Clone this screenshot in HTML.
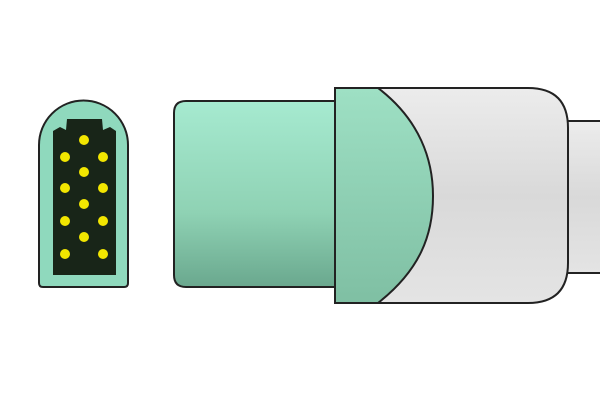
<!DOCTYPE html>
<html><head><meta charset="utf-8"><style>html,body{margin:0;background:#fff}svg{display:block}</style></head>
<body>
<svg width="600" height="400" viewBox="0 0 600 400">
<defs>
<linearGradient id="gb" x1="0" y1="0" x2="0" y2="1"><stop offset="0" stop-color="#a6ead0"/><stop offset="0.6" stop-color="#8fd2b4"/><stop offset="1" stop-color="#6aa88e"/></linearGradient>
<linearGradient id="gc" x1="0" y1="0" x2="0" y2="1"><stop offset="0" stop-color="#9ee0c4"/><stop offset="1" stop-color="#7fbfa3"/></linearGradient>
<linearGradient id="gg" x1="0" y1="0" x2="0" y2="1"><stop offset="0" stop-color="#ececec"/><stop offset="0.5" stop-color="#d9d9d9"/><stop offset="1" stop-color="#e4e4e4"/></linearGradient>
</defs>
<g>
<path d="M39,283 L39,145 A44.5,44.5 0 0 1 128,145 L128,283 Q128,287 124,287 L43,287 Q39,287 39,283 Z" fill="#8fd9bd" stroke="#222" stroke-width="2"/>
<path d="M53,275 L53,131 L60,127 L66,130 L67,119 L102,119 L103,130 L110,127 L116,131 L116,275 Z" fill="#182518"/>
<g fill="#f2e600">
<circle cx="84" cy="140" r="5"/><circle cx="84" cy="172" r="5"/><circle cx="84" cy="204" r="5"/><circle cx="84" cy="237" r="5"/>
<circle cx="65" cy="157" r="5"/><circle cx="65" cy="188" r="5"/><circle cx="65" cy="221" r="5"/><circle cx="65" cy="254" r="5"/>
<circle cx="103" cy="157" r="5"/><circle cx="103" cy="188" r="5"/><circle cx="103" cy="221" r="5"/><circle cx="103" cy="254" r="5"/>
</g>
</g>
<rect x="560" y="121" width="45" height="152" fill="url(#gg)" stroke="#222" stroke-width="2"/>
<path d="M186,101 L340,101 L340,287 L186,287 Q174,287 174,275 L174,113 Q174,101 186,101 Z" fill="url(#gb)" stroke="#222" stroke-width="2"/>
<path d="M335,88 L528,88 Q568,88 568,128 L568,263 Q568,303 528,303 L335,303 Z" fill="url(#gg)" stroke="#222" stroke-width="2"/>
<path d="M335,88 L378,88 C420,120 433,160 433,196 C433,235 420,270 378,303 L335,303 Z" fill="url(#gc)" stroke="#222" stroke-width="2"/>
</svg>
</body></html>
